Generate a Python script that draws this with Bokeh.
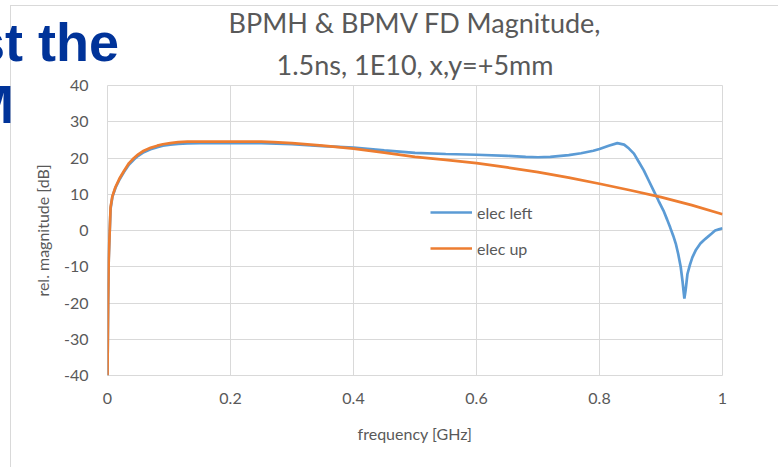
from bokeh.plotting import figure
from bokeh.models import Range1d, FixedTicker, Legend, LegendItem, Title, Div
from bokeh.layouts import column
from bokeh.embed import file_html
from bokeh.resources import INLINE

# ---------------- data ----------------
freq_left = [0, 0.001, 0.002, 0.003, 0.005, 0.008, 0.013, 0.02, 0.027, 0.035, 0.043, 0.05,
             0.059, 0.07, 0.081, 0.09, 0.102, 0.115, 0.13, 0.15, 0.2, 0.25, 0.3, 0.35, 0.4,
             0.45, 0.5, 0.55, 0.6, 0.65, 0.68, 0.7, 0.72, 0.75, 0.77, 0.79, 0.8, 0.815,
             0.829, 0.84, 0.848, 0.856, 0.864, 0.872, 0.88, 0.888, 0.896, 0.904, 0.91,
             0.915, 0.92, 0.924, 0.928, 0.932, 0.935, 0.938, 0.940, 0.943, 0.947, 0.951,
             0.957, 0.964, 0.97, 0.975, 0.982, 0.988, 0.994, 1.0]
mag_left = [-40, -20, -8, -3, 6.0, 9.3, 11.8, 14.2, 16.2, 18.2, 19.6, 20.6,
            21.6, 22.4, 23.0, 23.4, 23.7, 23.9, 24.0, 24.1, 24.1, 24.1, 23.8, 23.3, 22.9,
            22.1, 21.4, 21.1, 20.9, 20.6, 20.3, 20.2, 20.3, 20.8, 21.3, 22.0, 22.5, 23.4,
            24.1, 23.7, 22.6, 21.2, 18.9, 16.6, 13.8, 11.0, 8.2, 5.5, 3.0,
            0.8, -1.5, -3.6, -6.5, -10.0, -14.0, -18.8, -16.5, -12.0, -9.5, -7.4,
            -5.3, -3.6, -2.6, -1.9, -0.9, 0.0, 0.3, 0.6]

freq_up = [0, 0.001, 0.002, 0.003, 0.005, 0.008, 0.013, 0.02, 0.027, 0.035, 0.043, 0.05,
           0.059, 0.07, 0.081, 0.09, 0.102, 0.115, 0.13, 0.15, 0.2, 0.25, 0.27, 0.3, 0.35,
           0.4, 0.45, 0.5, 0.55, 0.6, 0.65, 0.7, 0.75, 0.8, 0.85, 0.9, 0.95, 1.0]
mag_up = [-40, -20, -8, -3, 6.4, 9.5, 12.0, 14.5, 16.5, 18.6, 20.0, 21.0,
          22.0, 22.8, 23.4, 23.8, 24.1, 24.4, 24.5, 24.5, 24.5, 24.5, 24.4, 24.1, 23.4,
          22.6, 21.5, 20.3, 19.5, 18.6, 17.4, 16.1, 14.6, 12.9, 11.1, 9.2, 7.0, 4.5]

x_ticks = [0, 0.2, 0.4, 0.6, 0.8, 1.0]
x_tick_labels = ["0", "0.2", "0.4", "0.6", "0.8", "1"]
y_ticks = [-40, -30, -20, -10, 0, 10, 20, 30, 40]
y_tick_labels = ["-40", "-30", "-20", "-10", "0", "10", "20", "30", "40"]

series_names = ["elec left", "elec up"]
title_lines = ["BPMH & BPMV FD Magnitude,", "1.5ns, 1E10, x,y=+5mm"]
slide_lines = ["st the", "M"]

# ---------------- layout ----------------
W, H = 778, 467
FL, FR, FT, FB = 107, 722, 85, 375
GRID = "#d9d9d9"
TXT = "#595959"
FONT = "Lato"

p = figure(width=W, height=H, output_backend="svg", toolbar_location=None,
           x_range=Range1d(0, 1), y_range=Range1d(-40, 40),
           min_border_left=FL, min_border_right=W - FR,
           min_border_top=FT, min_border_bottom=H - FB)
p.background_fill_color = "white"
p.border_fill_alpha = 0
p.outline_line_color = GRID
p.outline_line_width = 1
# outer chart-area border (left and top edges visible in the window)
p.styles = {
    "background-color": "white",
    "background-image": "linear-gradient(#d9d9d9, #d9d9d9), linear-gradient(#d9d9d9, #d9d9d9)",
    "background-size": "1px 470px, 780px 1px",
    "background-position": "10px 5px, 10px 5px",
    "background-repeat": "no-repeat",
}

p.xaxis.ticker = FixedTicker(ticks=x_ticks)
p.yaxis.ticker = FixedTicker(ticks=y_ticks)
p.xaxis.major_label_overrides = {t: l for t, l in zip(x_ticks, x_tick_labels)}
p.yaxis.major_label_overrides = {t: l for t, l in zip(y_ticks, y_tick_labels)}
for ax in (p.xaxis, p.yaxis):
    ax.axis_line_color = None
    ax.major_tick_line_color = None
    ax.minor_tick_line_color = None
    ax.major_tick_out = 0
    ax.major_tick_in = 0
    ax.major_label_text_font = FONT
    ax.major_label_text_font_size = "16px"
    ax.major_label_text_color = TXT
    ax.axis_label_text_font = FONT
    ax.axis_label_text_font_size = "16px"
    ax.axis_label_text_font_style = "normal"
    ax.axis_label_text_color = TXT
p.xaxis.axis_label = "frequency [GHz]"
p.yaxis.axis_label = "rel. magnitude [dB]"
p.xaxis.major_label_standoff = 17
p.yaxis.major_label_standoff = 19
p.xaxis.axis_label_standoff = 17
p.yaxis.axis_label_standoff = 9

p.xgrid.ticker = FixedTicker(ticks=x_ticks)
p.ygrid.ticker = FixedTicker(ticks=y_ticks)
p.grid.grid_line_color = GRID
p.grid.grid_line_width = 1

r_left = p.line(freq_left, mag_left, line_color="#5B9BD5", line_width=2.7)
r_up = p.line(freq_up, mag_up, line_color="#ED7D31", line_width=2.7)

legend = Legend(items=[LegendItem(label=series_names[0], renderers=[r_left]),
                       LegendItem(label=series_names[1], renderers=[r_up])],
                location=(323, 117), background_fill_alpha=0, border_line_alpha=0,
                glyph_width=42, glyph_height=20, label_height=20, spacing=16, padding=0,
                margin=0, label_standoff=5, label_text_font=FONT,
                label_text_font_size="16px", label_text_color=TXT)
p.add_layout(legend)

# chart title: two stacked titles (the later one sits above)
p.add_layout(Title(text=title_lines[1], align="center", offset=4, standoff=10,
                   text_font=FONT, text_font_size="27px", text_font_style="normal",
                   text_color=TXT), "above")
p.add_layout(Title(text=title_lines[0], align="center", offset=4, standoff=3,
                   text_font=FONT, text_font_size="27px", text_font_style="normal",
                   text_color=TXT), "above")

# slide text lying over the chart's left edge (absolutely placed HTML text)
def slide_div(txt, left, top):
    return Div(text=txt, margin=0, styles={
        "position": "absolute", "left": f"{left}px", "top": f"{top}px", "z-index": "10",
        "font-family": "'Liberation Sans', Arial, sans-serif", "font-weight": "bold",
        "font-size": "54px", "line-height": "normal", "color": "#003399",
        "white-space": "nowrap",
    })

layout = column(p, slide_div(slide_lines[0], -25, 11), slide_div(slide_lines[1], -31, 73),
                spacing=0)

open("out.html", "w").write(file_html(layout, INLINE))
